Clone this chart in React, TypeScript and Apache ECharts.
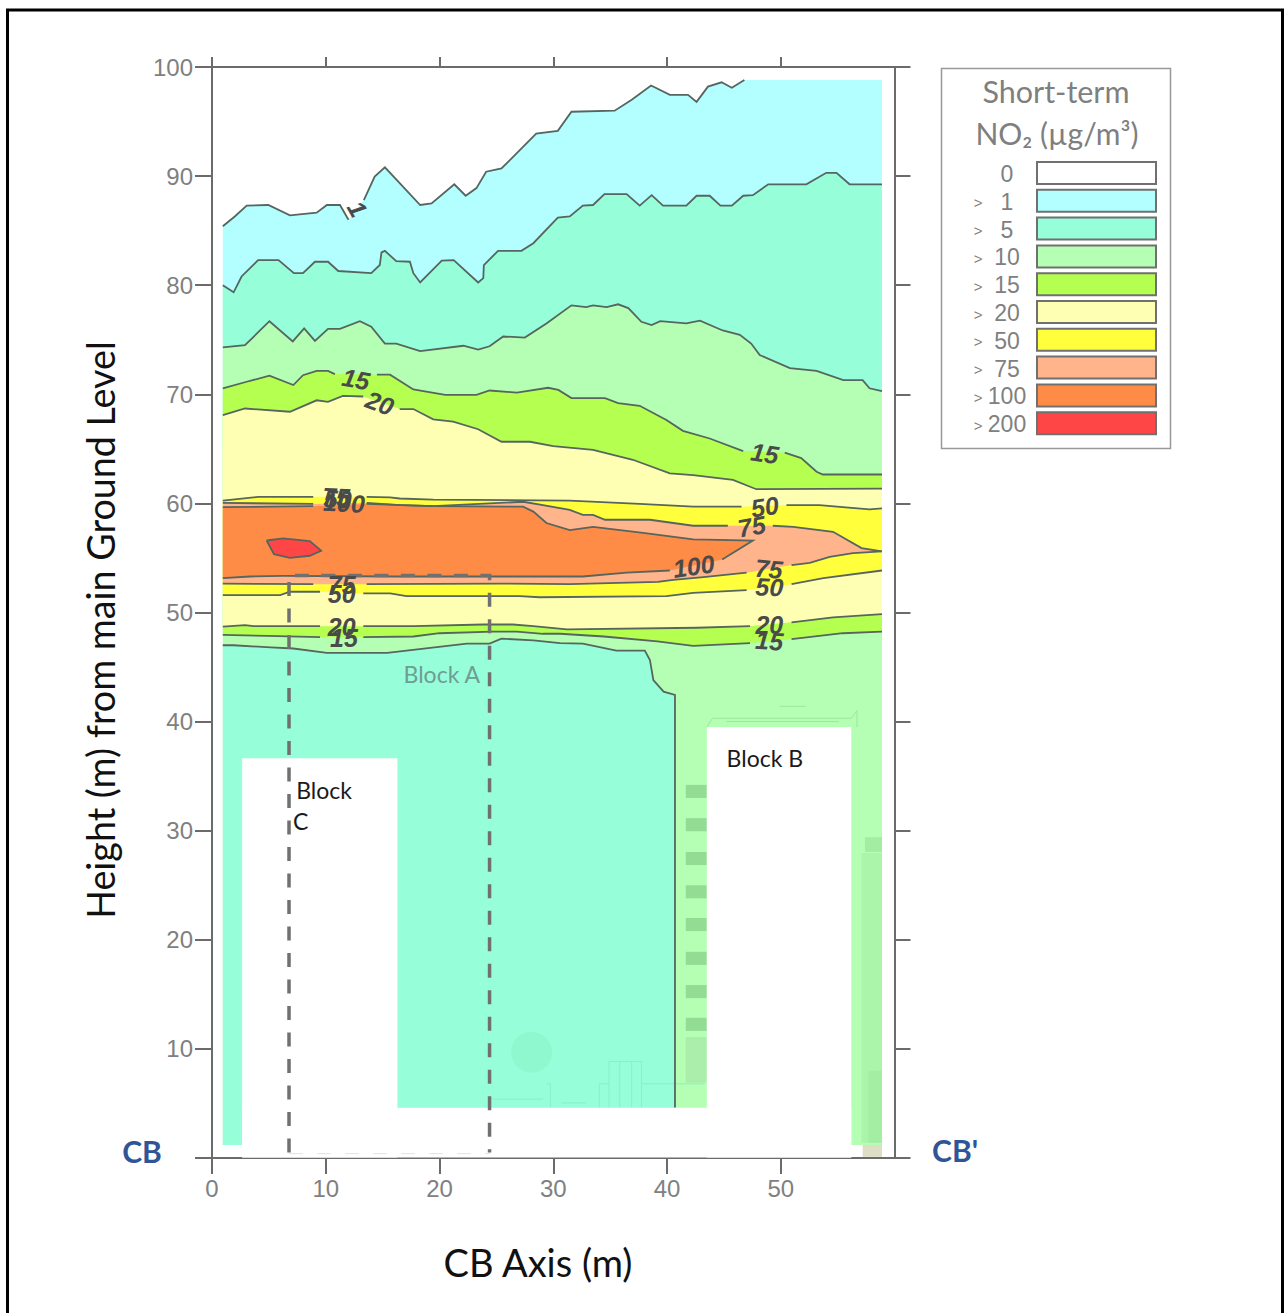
import React, { useEffect, useRef } from "react";
import * as echarts from "echarts";

type P = [number, number];

const xTicks = [0, 10, 20, 30, 40, 50];
const yLabels = [10, 20, 30, 40, 50, 60, 70, 80, 90, 100];

const levelColors = {
  c1: "#B3FFFF", c5: "#96FFDA", c10: "#B4FFB4", c15: "#B4FF50",
  c20: "#FFFFB4", c50: "#FFFF3C", c75: "#FFB48C", c100: "#FF8C46", c200: "#FF4646",
};
const legendValues = ["0", "1", "5", "10", "15", "20", "50", "75", "100", "200"];
const legendColors = ["#FFFFFF", levelColors.c1, levelColors.c5, levelColors.c10, levelColors.c15, levelColors.c20, levelColors.c50, levelColors.c75, levelColors.c100, levelColors.c200];

// contour traces, each a list of pieces; breaks leave room for the inline label
const contour1: P[][] = [
  [[0.95,85.4],[2,86.3],[3.05,87.3],[4.95,87.35],[6.85,86.4],[9.2,86.65],[10.1,87.35],[11.25,87.35],[12,86]],
  [[13.35,87.8],[14.3,89.95],[15.2,90.8],[16.5,89.35],[18.3,87.35],[19.3,87.5],[21.3,89.25],[22.3,88.2],[23.25,88.9],[24.1,90.4],[25.45,90.7],[28.5,93.9],[30.4,94.15],[31.6,95.9],[35.4,96],[36.9,97],[38.6,98.3],[40.25,97.45],[41.85,97.45],[42.6,96.8],[43.6,98.2],[44.8,98.6],[45.7,98.1],[46.8,98.8]],
];
const contour5: P[][] = [
  [[0.95,80],[1.9,79.35],[2.6,80.8],[4.05,82.3],[5.85,82.3],[7.2,81.1],[8,81.1],[9.05,82.15],[10.2,82.15],[11.1,81.3],[14,81.1],[14.75,81.85],[14.9,83],[15.2,83.15],[16.2,82.2],[17.4,82.15],[17.7,81.1],[18.3,80.25],[20.2,82.25],[21.25,82.3],[23.4,80.25],[23.85,80.65],[23.9,81.85],[25.15,83.15],[27.2,83.15],[28.25,83.85],[30.4,86.2],[31.45,86.3],[32.6,87.3],[33.5,87.35],[34.5,88.35],[36.45,88.35],[37.6,87.3],[38.65,88.25],[39.65,87.3],[41.7,87.3],[42.6,88.2],[43.75,88.2],[44.7,87.3],[45.7,87.3],[46.7,88.2],[47.55,88.25],[48.9,89.25],[52.25,89.25],[54,90.3],[54.9,90.3],[56.05,89.25],[58.9,89.25]],
];
const contour10Top: P[][] = [
  [[0.95,74.3],[2.9,74.5],[5.05,76.7],[7.1,74.85],[8.1,76.05],[9.05,74.9],[10.2,76],[11.25,76],[13,76.7],[14,76.2],[15.2,74.65],[16.2,74.65],[18.3,73.95],[22.1,74.45],[23.4,74.1],[24.4,74.4],[25.6,75.3],[27.5,75.2],[29.4,76.5],[31.6,78.15],[32.9,78],[33.5,78.15],[34.7,78],[35.7,78.25],[36.6,77.9],[37.75,76.65],[38.65,76.35],[39.4,76.7],[41.7,76.5],[42.9,76.75],[44.9,75.85],[46.4,75.45],[47.4,74.65],[48.15,73.6],[50.8,72.4],[53.15,72.15],[55.5,71.3],[57.2,71.3],[57.8,70.55],[58.9,70.3]],
];
const contour15Top: P[][] = [
  [[0.95,70.55],[3.05,71.15],[5.05,71.7],[7.15,70.85],[8,71.75],[9.2,72.15],[10.2,72.15],[10.8,71.85]],
  [[14.5,71.8],[15.65,71.8],[17.7,70.45],[20.5,69.95],[23.25,69.95],[24.4,70.35],[26.8,70.15],[29.55,70.6],[30.45,70.4],[31.6,69.65],[34.55,69.65],[35.7,69.2],[37.6,68.95],[39.95,67.65],[41.4,66.65],[43.75,65.95],[46.7,64.8]],
  [[50.35,64.65],[51.8,64.15],[53.15,62.9],[53.7,62.65],[58.9,62.65]],
];
const contour20Top: P[][] = [
  [[0.95,68.1],[2.9,68.7],[6.85,68.4],[9.2,69.45],[10.2,69.3],[11.5,69.85],[13.3,69.8]],
  [[16.5,68.65],[17.7,68.65],[19.45,67.7],[21.2,67.5],[23.4,66.8],[25.45,65.65],[27.95,65.65],[30,65.25],[33.5,64.9],[37,64],[40.25,62.75],[42.3,62.6],[45.8,62.15],[47.85,61.3],[58.9,61.35]],
];
const contour50Top: P[][] = [
  [[0.95,60.25],[4.05,60.6],[8.9,60.6]],
  [[13.6,60.6],[15.65,60.55],[16.5,60.45],[19.45,60.35],[31.45,60.25],[37.6,59.95],[42.3,59.7],[46.55,59.7]],
  [[50.5,59.85],[53.4,59.85],[57.8,59.45],[58.9,59.55]],
];
const contour75Top: P[][] = [
  [[0.95,60.05],[8.9,59.95]],
  [[13.6,60.05],[16.5,59.85],[19.45,59.75],[27.35,60.15],[29.1,59.85],[31.45,59.4],[32.6,58.95],[33.5,58.95],[34.55,58.5],[38.5,58.5],[42.3,57.95],[45.35,57.95]],
  [[49.3,57.95],[51.1,57.85],[54.6,57.4],[57.1,55.9],[58.9,55.6]],
];
const contour100Top: P[][] = [
  [[0.95,59.65],[8.9,59.75]],
  [[13.6,59.95],[19.45,59.75],[27.35,59.7],[28.25,59.25],[29.4,58.2],[31.45,57.55],[33.5,57.85],[37.9,57.3],[42.3,56.7],[47.55,56.6],[44.85,54.85]],
];
const contour100Bottom: P[][] = [
  [[0.95,53.15],[3.35,53.3],[6.25,53.35],[16.2,53.3],[32.6,53.3],[36.45,53.65],[40.25,53.85]],
];
const contour75Bottom: P[][] = [
  [[0.95,52.65],[8.9,52.6]],
  [[13.6,52.6],[25.3,52.65],[31.45,52.6],[39.2,52.8],[40.55,53],[43.2,53.25],[47,53.65]],
  [[50.95,54.35],[52.55,54.55],[54.3,55.1],[56.35,55.45],[58.9,55.6]],
];
const contour50Bottom: P[][] = [
  [[0.95,51.6],[6,51.6],[6.85,51.9],[9.5,51.9]],
  [[13.3,51.75],[15.65,51.75],[17.1,51.5],[27.05,51.5],[28.8,51.4],[39.95,51.5],[42.3,51.8],[47,52.05]],
  [[50.95,52.6],[53.75,53.15],[58.9,53.85]],
];
const contour20Bottom: P[][] = [
  [[0.95,48.7],[2.9,48.85],[3.65,48.75],[9.5,48.75]],
  [[13.3,48.75],[17.7,48.75],[23.85,48.9],[26.45,48.9],[28.25,48.75],[31.2,48.45],[42.6,48.6],[47.3,48.75]],
  [[50.95,49.1],[54.6,49.55],[58.9,49.85]],
];
const contour15Bottom: P[][] = [
  [[0.95,47.95],[4.85,47.85],[9.5,47.75]],
  [[13.3,47.75],[17.7,47.8],[20,48.1],[24.7,48.25],[26.8,48.25],[29.1,48.05],[30.6,48.05],[34.45,47.8],[39.15,47.35],[42.3,46.95],[47.3,47.2]],
  [[50.95,47.55],[55.45,48.1],[58.9,48.25]],
];
const contour10Bottom: P[][] = [
  [[0.95,47],[1.9,47],[5.15,46.8],[7.15,46.7],[10.1,46.3],[15.4,46.3],[22.4,47.15],[24.4,47.15],[25.45,47.6],[28.25,47.45],[30.6,47.2],[32.6,47.15],[35.55,46.5],[38.05,46.5],[38.5,45.65],[38.8,43.8],[39.7,42.75],[40.7,42.45],[40.7,4.6]],
];
const contour200: P[] = [[4.8,56.6],[6.25,56.8],[8.6,56.55],[9.6,55.65],[8.6,55.2],[6.85,55],[5.45,55.35],[4.8,56.6]];

const domainLeft = 0.95;
const domainRight = 58.9;
const domainTop = 98.8;
const domainFoot = 1.2;

const contourLabels: [string, number, number, number][] = [
  ["1", 12.8, 87, -60],
  ["15", 12.65, 71.4, -10],
  ["20", 14.75, 69.2, -20],
  ["15", 48.6, 64.6, -8],
  ["50", 48.6, 59.7, 8],
  ["75", 47.45, 57.9, 10],
  ["100", 42.35, 54.25, 8],
  ["75", 48.95, 54, -5],
  ["50", 49, 52.35, -3],
  ["20", 49, 48.85, 0],
  ["15", 49, 47.4, -4],
  ["50", 11.05, 60.4, -3],
  ["75", 10.9, 60.6, -3],
  ["100", 11.6, 60.05, -3],
  ["75", 11.4, 52.5, 0],
  ["50", 11.4, 51.7, 0],
  ["20", 11.4, 48.65, 0],
  ["15", 11.6, 47.65, 0],
];

// building footprints: x0, x1, yTop, yBottom
const blockC = [2.65, 16.3, 36.65, 0.05];
const blockB = [43.5, 56.2, 39.5, 0.05];
const groundGap = [2.65, 56.2, 4.6, 0.05];
const windowTops = [34.2, 31.15, 28.05, 25, 22, 18.9, 15.85, 12.85];
const windowSpan = [41.65, 43.5];
const windowHeight = 1.2;

const sectionPath: P[] = [[6.77, 0.5], [6.77, 53.4], [24.4, 53.4], [24.4, 0.5]];
const faintGround: P[] = [[6.77, 0.4], [24.4, 0.4]];

const drawingLines: P[][] = [
  [[24.6,5.4],[29.1,5.4]],
  [[29.4,6.8],[29.75,6.8],[29.75,4.6]],
  [[30.75,5.05],[32.9,5.05]],
  [[34.05,4.6],[34.05,6.8],[34.9,6.8],[34.9,4.6]],
  [[34.9,6.8],[34.9,8.85],[37.75,8.85],[37.75,4.6]],
  [[35.85,8.85],[35.85,4.6]],
  [[36.9,8.85],[36.9,4.6]],
  [[37.75,6.8],[43.3,6.8]],
];
const drawingRoof: P[][] = [
  [[43.5,39.5],[44,40.3],[56.2,40.3],[56.7,41],[56.7,39.5]],
  [[45.2,40],[55.1,40]],
  [[49.9,41.4],[52.2,41.4]],
];
const treeSpot = [28.1, 9.7, 1.8];

const annotations: [string, number, number, string][] = [
  ["Block A", 20.2, 44.35, "#6F9C93"],
  ["Block B", 48.6, 36.65, "#1a1a1a"],
  ["Block", 9.85, 33.75, "#1a1a1a"],
  ["C", 7.8, 30.9, "#1a1a1a"],
];

const flat = (c: P[][]) => c.flat();
const rev = (c: P[][]) => c.flat().slice().reverse();

const fills: { color: string; pts: P[] }[] = [
  { color: levelColors.c1, pts: [...flat(contour1), [domainRight, domainTop], [domainRight, 75], [domainLeft, 75]] },
  { color: levelColors.c5, pts: [...flat(contour5), [domainRight, 65], [domainLeft, 65]] },
  { color: levelColors.c10, pts: [...flat(contour10Top), [domainRight, domainFoot], [domainLeft, domainFoot]] },
  { color: levelColors.c5, pts: [...flat(contour10Bottom), [40.7, domainFoot], [domainLeft, domainFoot]] },
  { color: levelColors.c15, pts: [...flat(contour15Top), ...rev(contour15Bottom)] },
  { color: levelColors.c20, pts: [...flat(contour20Top), ...rev(contour20Bottom)] },
  { color: levelColors.c50, pts: [...flat(contour50Top), ...rev(contour50Bottom)] },
  { color: levelColors.c75, pts: [...flat(contour75Top), ...rev(contour75Bottom)] },
  { color: levelColors.c100, pts: [...flat(contour100Top), ...rev(contour100Bottom)] },
  { color: levelColors.c200, pts: contour200 },
];
const allLines: P[][] = [
  ...contour1, ...contour5, ...contour10Top, ...contour15Top, ...contour20Top, ...contour50Top,
  ...contour75Top, ...contour100Top, ...contour100Bottom, ...contour75Bottom, ...contour50Bottom,
  ...contour20Bottom, ...contour15Bottom, ...contour10Bottom, contour200,
];

const LINE = "#56655F";
const AXIS = "#6B6B6B";
const TICKTEXT = "#808080";
const UI = "Lato, 'Noto Sans', sans-serif";

function layer(name: string, build: (c: (p: P) => number[]) => any[]) {
  return {
    type: "custom",
    name,
    coordinateSystem: "cartesian2d",
    xAxisIndex: 0,
    yAxisIndex: 0,
    silent: true,
    clip: false,
    data: [[0, 0]],
    renderItem: (_p: any, api: any) => ({
      type: "group",
      children: build((p: P) => api.coord(p)),
    }),
  };
}
const rectEl = (c: (p: P) => number[], b: number[], fill: string) => {
  const a = c([b[0], b[2]]);
  const d = c([b[1], b[3]]);
  return { type: "rect", shape: { x: a[0], y: a[1], width: d[0] - a[0], height: d[1] - a[1] }, style: { fill } };
};
const polyEl = (c: (p: P) => number[], pts: P[], style: any) => ({
  type: "polyline",
  shape: { points: pts.map(c) },
  style: { fill: "none", ...style },
});

export default function App() {
  const ref = useRef<HTMLDivElement>(null);
  useEffect(() => {
    const chart = echarts.init(ref.current!, undefined, { renderer: "svg" });
    const legendX = 1037, legendW = 119, legendH = 22, legendY0 = 162, legendStep = 27.8;
    const legendEls: any[] = [];
    legendValues.forEach((v, i) => {
      const y = legendY0 + i * legendStep;
      legendEls.push({ type: "rect", shape: { x: legendX, y, width: legendW, height: legendH }, style: { fill: legendColors[i], stroke: "#707070", lineWidth: 2 } });
      legendEls.push({ type: "text", x: 1007, y: y + 12, style: { text: v, fontFamily: "'Liberation Sans', Arial, sans-serif", fontSize: 23, fill: TICKTEXT, align: "center", verticalAlign: "middle" } });
      if (i > 0) legendEls.push({ type: "text", x: 978, y: y + 13, style: { text: ">", fontFamily: "'Liberation Sans', Arial, sans-serif", fontSize: 15, fill: TICKTEXT, align: "center", verticalAlign: "middle" } });
    });
    chart.setOption({
      animation: false,
      backgroundColor: "#fff",
      grid: { left: 212, top: 67, right: 1284 - 894.5, bottom: 1313 - 1158 },
      xAxis: [
        {
          type: "value", position: "bottom", min: 0, max: 60, interval: 10,
          axisLine: { show: true, onZero: false, lineStyle: { color: AXIS, width: 2 } },
          axisTick: { show: true, length: 16, customValues: xTicks, lineStyle: { color: AXIS, width: 2 } },
          axisLabel: { show: true, customValues: xTicks, margin: 18, color: TICKTEXT, fontSize: 24, fontFamily: "'Liberation Sans', Arial, sans-serif" },
          splitLine: { show: false },
        },
        {
          type: "value", position: "top", min: 0, max: 60, interval: 10,
          axisLine: { show: true, onZero: false, lineStyle: { color: AXIS, width: 2 } },
          axisTick: { show: true, length: 10, customValues: xTicks, lineStyle: { color: AXIS, width: 2 } },
          axisLabel: { show: false },
          splitLine: { show: false },
        },
      ],
      yAxis: [
        {
          type: "value", position: "left", min: 0, max: 100, interval: 10,
          axisLine: { show: true, onZero: false, lineStyle: { color: AXIS, width: 2 } },
          axisTick: { show: true, length: 17, lineStyle: { color: AXIS, width: 2 } },
          axisLabel: { show: true, customValues: yLabels, margin: 19, color: TICKTEXT, fontSize: 24, fontFamily: "'Liberation Sans', Arial, sans-serif" },
          splitLine: { show: false },
        },
        {
          type: "value", position: "right", min: 0, max: 100, interval: 10,
          axisLine: { show: true, onZero: false, lineStyle: { color: AXIS, width: 2 } },
          axisTick: { show: true, length: 16, lineStyle: { color: AXIS, width: 2 } },
          axisLabel: { show: false },
          splitLine: { show: false },
        },
      ],
      series: [
        layer("bands", (c) => fills.map((f) => ({ type: "polygon", shape: { points: f.pts.map(c) }, style: { fill: f.color } }))),
        layer("drawing", (c) => {
          const tc = c([treeSpot[0], treeSpot[1]]);
          const tr = c([treeSpot[0] + treeSpot[2], treeSpot[1]])[0] - tc[0];
          return [
            { type: "circle", shape: { cx: tc[0], cy: tc[1], r: tr }, style: { fill: "#8FF8CF" } },
            rectEl(c, [57.1, 58.9, 27.95, domainFoot + 0.2], "#AAF5AA"),
            rectEl(c, [57.4, 58.9, 29.4, 28.05], "#A4ECA4"),
            rectEl(c, [57.7, 58.9, 8, domainFoot + 0.2], "#A2EEA2"),
            rectEl(c, [57.2, 58.9, domainFoot, 0.1], "#DEDEC6"),
            rectEl(c, [windowSpan[0], windowSpan[1], 11.1, 6.9], "#ABEEAB"),
            ...windowTops.map((t) => rectEl(c, [windowSpan[0], windowSpan[1], t, t - windowHeight], "#93DC93")),
            ...drawingLines.map((l) => polyEl(c, l, { stroke: "#88F0C8", lineWidth: 1 })),
            ...drawingRoof.map((l) => polyEl(c, l, { stroke: "#A0E4A0", lineWidth: 1 })),
          ];
        }),
        layer("contours", (c) => allLines.map((l) => polyEl(c, l, { stroke: LINE, lineWidth: 1.8 }))),
        layer("buildings", (c) => [rectEl(c, blockC, "#fff"), rectEl(c, blockB, "#fff"), rectEl(c, groundGap, "#fff")]),
        layer("section", (c) => [
          polyEl(c, sectionPath, { stroke: "#707070", lineWidth: 3.5, lineDash: [14, 12.5] }),
          polyEl(c, faintGround, { stroke: "#E2E2E2", lineWidth: 1, lineDash: [14, 14] }),
        ]),
        layer("contour labels", (c) =>
          contourLabels.map(([t, x, y, rot]) => {
            const p = c([x, y]);
            return {
              type: "text", x: p[0], y: p[1], rotation: (rot * Math.PI) / 180,
              style: { text: t, fontFamily: "'Liberation Sans', Arial, sans-serif", fontSize: 25, fontStyle: "italic", fontWeight: "bold", fill: "#4A4A4A", align: "center", verticalAlign: "middle" },
            };
          })
        ),
        layer("annotations", (c) =>
          annotations.map(([t, x, y, color]) => {
            const p = c([x, y]);
            return { type: "text", x: p[0], y: p[1], style: { text: t, fontFamily: UI, fontSize: 23, fill: color, align: "center", verticalAlign: "middle" } };
          })
        ),
      ],
      graphic: {
        elements: [
          { type: "polyline", shape: { points: [[7.5, 1313], [7.5, 10], [1282.5, 10], [1282.5, 1313]] }, style: { fill: "none", stroke: "#000", lineWidth: 3 } },
          { type: "rect", shape: { x: 941.5, y: 68.5, width: 229, height: 380 }, style: { fill: "#fff", stroke: "#999", lineWidth: 1.5 } },
          { type: "text", x: 1056, y: 91, style: { text: "Short-term", fontFamily: UI, fontSize: 30.5, fill: "#7F7F7F", align: "center", verticalAlign: "middle" } },
          { type: "text", x: 1057, y: 133, style: { text: "NO₂ (µg/m³)", fontFamily: UI, fontSize: 30, fill: "#7F7F7F", align: "center", verticalAlign: "middle" } },
          ...legendEls,
          { type: "text", x: 100, y: 630, rotation: Math.PI / 2, style: { text: "Height (m) from main Ground Level", fontFamily: UI, fontSize: 37.7, fill: "#111", align: "center", verticalAlign: "middle" } },
          { type: "text", x: 538, y: 1262, style: { text: "CB Axis (m)", fontFamily: UI, fontSize: 38, fill: "#111", align: "center", verticalAlign: "middle" } },
          { type: "text", x: 142, y: 1151, style: { text: "CB", fontFamily: UI, fontSize: 30, fontWeight: "bold", fill: "#2F5597", align: "center", verticalAlign: "middle" } },
          { type: "text", x: 955, y: 1150, style: { text: "CB'", fontFamily: UI, fontSize: 30, fontWeight: "bold", fill: "#2F5597", align: "center", verticalAlign: "middle" } },
        ],
      },
    });
    return () => chart.dispose();
  }, []);
  return <div ref={ref} style={{ position: "absolute", left: 0, top: 0, width: 1284, height: 1313 }} />;
}
